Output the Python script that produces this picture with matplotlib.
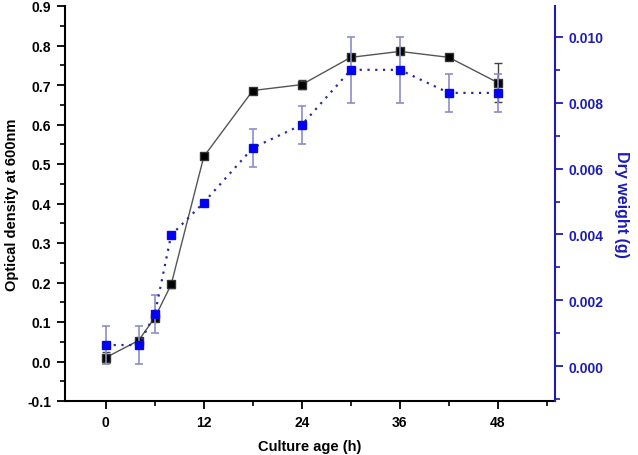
import matplotlib
matplotlib.use("Agg")
import matplotlib.pyplot as plt
from matplotlib.ticker import MultipleLocator, FormatStrFormatter

# Culture age (h)
hours = [0, 4, 6, 8, 12, 18, 24, 30, 36, 42, 48]

# Optical density at 600 nm (left axis)
od600 = [0.010, 0.053, 0.111, 0.195, 0.519, 0.686, 0.701, 0.770, 0.785, 0.770, 0.706]
od600_err = [0.015, 0.0, 0.0, 0.01, 0.0, 0.0, 0.012, 0.0, 0.0, 0.0, 0.05]

# Dry weight (g) (right axis)
dry_weight = [0.00064, 0.00064, 0.00158, 0.00398, 0.00497, 0.00663, 0.00733,
              0.00900, 0.00900, 0.00830, 0.00830]
dry_weight_err = [0.00058, 0.00058, 0.00058, 0.0, 0.0, 0.00058, 0.00058,
                  0.001, 0.001, 0.00058, 0.00058]

plt.rcParams["font.family"] = ["Liberation Sans", "DejaVu Sans"]
plt.rcParams["font.weight"] = "bold"

blue_axis = "#1c1cb4"

fig = plt.figure(figsize=(6.38, 4.56), dpi=100)
ax = fig.add_axes([65 / 638, 54 / 456, 490 / 638, 395 / 456])
ax2 = ax.twinx()

# OD series
ax.errorbar(hours, od600, yerr=od600_err, color="#555555", lw=1.0,
            marker="s", ms=5.5, mfc="black", mec="#333333",
            ecolor="#444444", elinewidth=1.0, capsize=2.7, capthick=1.0, zorder=3)

# dry weight series
ax2.errorbar(hours, dry_weight, yerr=dry_weight_err, color="#2a2aa0", lw=1.6,
             ls=(0, (1, 2.5)), marker="s", ms=5.5, mfc="#0000ff", mec="#0a0ad0",
             ecolor="#8c8cc8", elinewidth=1.2, capsize=2.7, capthick=1.2, zorder=3)

ax.set_xlim(-5, 55)
ax.set_ylim(-0.1, 0.9)
ax2.set_ylim(-0.00106, 0.01094)

ax.xaxis.set_major_locator(MultipleLocator(12))
ax.xaxis.set_minor_locator(MultipleLocator(6))
ax.yaxis.set_major_locator(MultipleLocator(0.1))
ax.yaxis.set_minor_locator(MultipleLocator(0.05))
ax.yaxis.set_major_formatter(FormatStrFormatter("%.1f"))
ax2.yaxis.set_major_locator(MultipleLocator(0.002))
ax2.yaxis.set_minor_locator(MultipleLocator(0.001))
ax2.yaxis.set_major_formatter(FormatStrFormatter("%.3f"))

for a in (ax, ax2):
    a.spines["top"].set_visible(False)
ax.spines["right"].set_visible(False)
ax2.spines["left"].set_visible(False)
ax2.spines["bottom"].set_visible(False)
ax2.spines["right"].set_color(blue_axis)
ax2.spines["right"].set_linewidth(1.5)
ax.spines["left"].set_linewidth(1.5)
ax.spines["bottom"].set_linewidth(1.5)

ax.tick_params(axis="both", which="major", direction="out", length=6, width=1.3,
               labelsize=10, pad=4)
ax.tick_params(axis="both", which="minor", direction="out", length=3.5, width=1.2)
ax2.tick_params(axis="y", which="major", direction="out", length=6, width=1.3,
                labelsize=10, colors=blue_axis, pad=4)
ax2.tick_params(axis="y", which="minor", direction="out", length=3.5, width=1.2,
                colors=blue_axis)

for lab in ax.get_xticklabels() + ax.get_yticklabels() + ax2.get_yticklabels():
    lab.set_fontweight("bold")

ax.set_xlabel("Culture age (h)", fontsize=10.5, fontweight="bold", labelpad=7)
ax.set_ylabel("Optical density at 600nm", fontsize=10.5, fontweight="bold", labelpad=6)
ax2.set_ylabel("Dry weight (g)", fontsize=11.5, fontweight="bold", color=blue_axis,
               rotation=270, labelpad=18)

fig.savefig("out.png", dpi=100)
